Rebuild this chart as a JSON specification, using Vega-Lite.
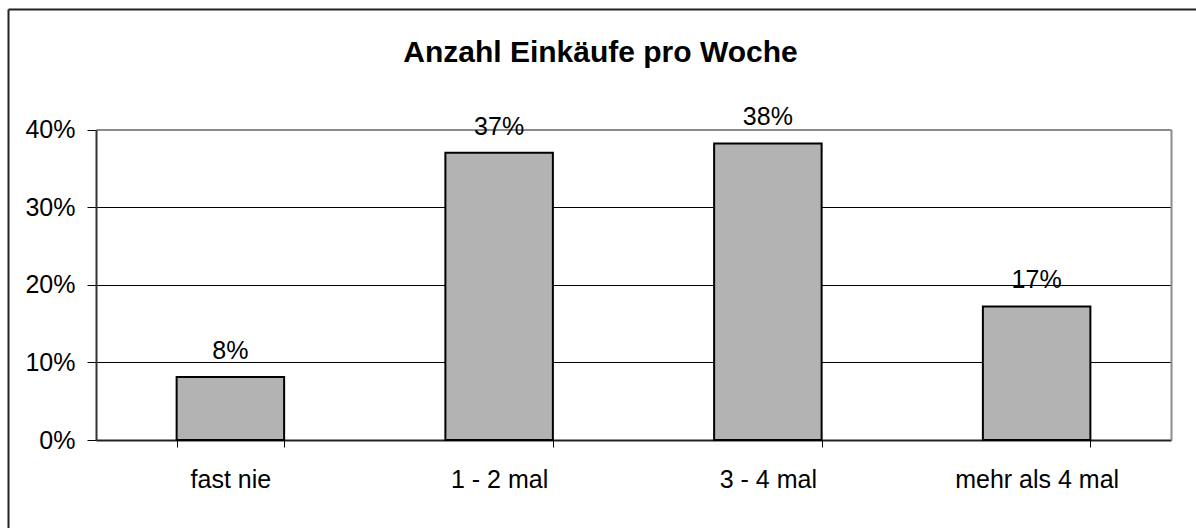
{
  "$schema": "https://vega.github.io/schema/vega-lite/v6.json",
  "width": 1188,
  "height": 519,
  "autosize": {"type": "none"},
  "padding": {"left": 8, "top": 9, "right": 0, "bottom": 0},
  "background": "white",
  "config": {
    "view": {"stroke": null},
    "font": "Liberation Sans"
  },
  "title": {
    "text": "Anzahl Einkäufe pro Woche",
    "font": "Liberation Sans",
    "fontSize": 30,
    "fontWeight": "bold",
    "color": "#000000",
    "anchor": "middle",
    "frame": "group",
    "baseline": "alphabetic",
    "offset": -53,
    "dy": 30,
    "dx": -1.5
  },
  "data": {
    "values": [
      {"Kategorie": "fast nie", "Anteil": 0.081},
      {"Kategorie": "1 - 2 mal", "Anteil": 0.370},
      {"Kategorie": "3 - 4 mal", "Anteil": 0.382},
      {"Kategorie": "mehr als 4 mal", "Anteil": 0.172}
    ]
  },
  "layer": [
    {
      "layer": [
        {
          "mark": {"type": "bar", "fill": "#b3b3b3", "stroke": "#000000", "strokeWidth": 2},
          "encoding": {
            "x": {
              "field": "Kategorie",
              "type": "nominal",
              "sort": null,
              "scale": {"range": [88, 1163], "paddingInner": 0.6, "paddingOuter": 0.3},
              "axis": {
                "orient": "bottom",
                "offset": -88,
                "title": null,
                "labelAngle": 0,
                "labelFont": "Liberation Sans",
                "labelFontSize": 25,
                "labelColor": "#000000",
                "labelPadding": 20,
                "tickBand": "extent",
                "tickSize": 7,
                "tickColor": "#000000",
                "tickWidth": 1,
                "domainColor": "#222222",
                "domainWidth": 2,
                "grid": false
              }
            },
            "y": {
              "field": "Anteil",
              "type": "quantitative",
              "scale": {"domain": [0, 0.4], "range": [431, 120.5], "nice": false, "zero": true},
              "axis": {
                "orient": "left",
                "offset": -88,
                "title": null,
                "values": [0, 0.1, 0.2, 0.3, 0.4],
                "format": ".0%",
                "labelFont": "Liberation Sans",
                "labelFontSize": 25,
                "labelColor": "#000000",
                "labelPadding": 12,
                "tickSize": 9,
                "tickColor": "#000000",
                "tickWidth": 1,
                "domainColor": "#333333",
                "domainWidth": 2,
                "grid": true,
                "gridColor": {"condition": {"test": "datum.value >= 0.39", "value": "#8c8c8c"}, "value": "#000000"},
                "gridWidth": 1
              }
            }
          }
        },
        {
          "mark": {"type": "text", "dy": -18, "baseline": "alphabetic", "fontSize": 25, "font": "Liberation Sans", "color": "#000000"},
          "encoding": {
            "x": {
              "field": "Kategorie",
              "type": "nominal",
              "sort": null,
              "scale": {"range": [88, 1163], "paddingInner": 0.6, "paddingOuter": 0.3},
              "axis": {
                "orient": "top",
                "offset": -120.5,
                "title": null,
                "labels": false,
                "ticks": false,
                "grid": false,
                "domainColor": "#8c8c8c",
                "domainWidth": 2
              }
            },
            "y": {
              "field": "Anteil",
              "type": "quantitative",
              "scale": {"domain": [0, 0.4], "range": [431, 120.5], "nice": false, "zero": true},
              "axis": {
                "orient": "right",
                "offset": -25,
                "title": null,
                "labels": false,
                "ticks": false,
                "grid": false,
                "domainColor": "#8c8c8c",
                "domainWidth": 2
              }
            },
            "text": {"field": "Anteil", "type": "quantitative", "format": ".0%"}
          }
        }
      ],
      "resolve": {"axis": {"x": "independent", "y": "independent"}}
    },
    {
      "mark": {"type": "point", "opacity": 0},
      "encoding": {
        "x": {
          "field": "Anteil",
          "type": "quantitative",
          "scale": {"domain": [0, 1], "range": [0, 1400], "nice": false, "zero": true},
          "axis": {
            "orient": "top",
            "offset": 0,
            "title": null,
            "labels": false,
            "ticks": false,
            "grid": false,
            "domainColor": "#222222",
            "domainWidth": 2
          }
        },
        "y": {
          "field": "Anteil",
          "type": "quantitative",
          "scale": {"domain": [0, 1], "range": [0, 700], "nice": false, "zero": true},
          "axis": {
            "orient": "left",
            "offset": 0,
            "title": null,
            "labels": false,
            "ticks": false,
            "grid": false,
            "domainColor": "#222222",
            "domainWidth": 2
          }
        }
      }
    }
  ],
  "resolve": {
    "scale": {"x": "independent", "y": "independent"},
    "axis": {"x": "independent", "y": "independent"}
  }
}
